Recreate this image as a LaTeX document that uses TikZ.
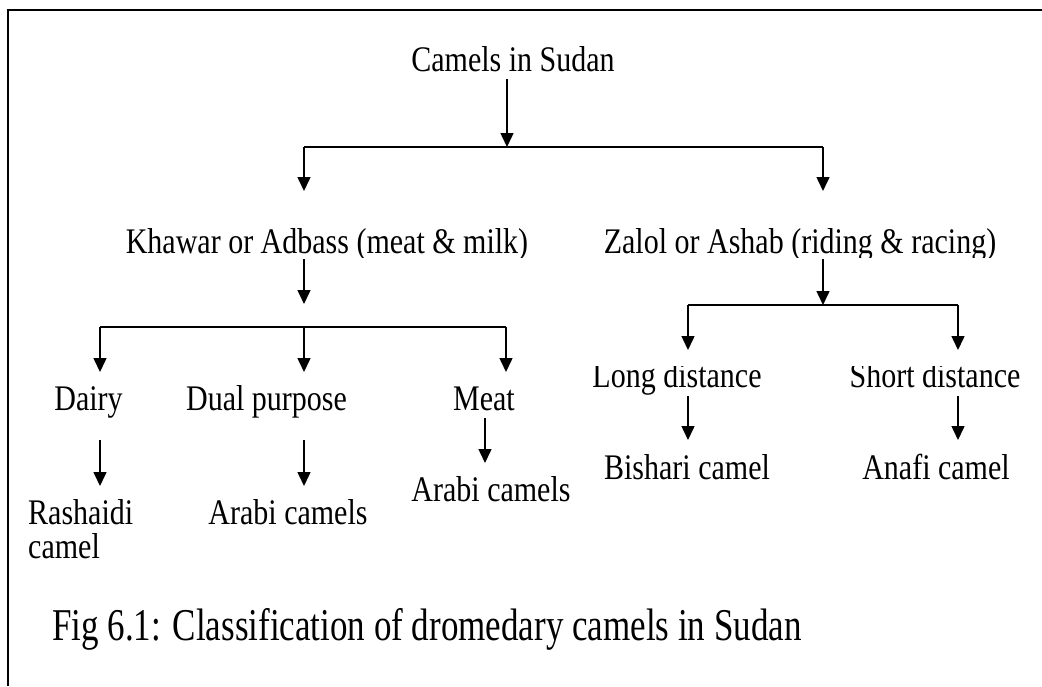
\documentclass[tikz,border=0pt]{standalone}
\usepackage{fontspec}
\usepackage{graphicx}
\setmainfont{Liberation Serif}
\usetikzlibrary{arrows.meta}
\newcommand\st[1]{\scalebox{1}[1.2]{#1}}
\newcommand\stc[1]{\scalebox{1}[1.3]{#1}}
\tikzset{
  lbl/.style={inner sep=0pt, font=\fontsize{30}{36}\selectfont},
  captxt/.style={inner sep=0pt, font=\fontsize{35}{42}\selectfont},
  arr/.style={line width=1.5pt, -{Triangle[width=13pt,length=14pt]}},
  ln/.style={line width=1.5pt},
  frameline/.style={line width=2pt}
}
\begin{document}
\begin{tikzpicture}[x=1pt,y=-1pt]
\useasboundingbox (0,0) rectangle (1042,686);
\fill[white] (0,0) rectangle (1042,686);
% frame
\coordinate (fA) at (8,686);
\coordinate (fB) at (8,10);
\coordinate (fC) at (1042,10);
\draw[frameline] (fA) -- (fB) -- (fC);
% texts
\node[lbl,anchor=base] (camels) at (513,71) {\st{Camels in Sudan}};
\begin{scope}
  \clip (100,200) rectangle (1040,257);
  \node[lbl,anchor=base] (khawar) at (327,253) {\st{Khawar or Adbass (meat \& milk)}};
  \node[lbl,anchor=base] (zalol) at (800,253) {\st{Zalol or Ashab (riding \& racing)}};
\end{scope}
\node[lbl,anchor=base] (dairy) at (88.5,410) {\st{Dairy}};
\node[lbl,anchor=base] (dual) at (266.5,410) {\st{Dual purpose}};
\node[lbl,anchor=base] (meat) at (484,410) {\st{Meat}};
\begin{scope}
  \clip (560,366) rectangle (1040,400);
  \node[lbl,anchor=base] (long) at (677,387) {\st{Long distance}};
  \node[lbl,anchor=base] (short) at (935,387) {\st{Short distance}};
\end{scope}
\node[lbl,anchor=base west] (rash1) at (28,524) {\st{Rashaidi}};
\node[lbl,anchor=base west] (rash2) at (28,558) {\st{camel}};
\node[lbl,anchor=base] (arabi1) at (288,524) {\st{Arabi camels}};
\node[lbl,anchor=base] (arabi2) at (491,501) {\st{Arabi camels}};
\begin{scope}
  \clip (560,440) rectangle (1040,479);
  \node[lbl,anchor=base] (bishari) at (687,479) {\st{Bishari camel}};
  \node[lbl,anchor=base] (anafi) at (936,479) {\st{Anafi camel}};
\end{scope}
\node[captxt,anchor=base west] (caption) at (52,640) {\stc{Fig 6.1: Classification of dromedary camels in Sudan}};
% level 1
\coordinate (a0) at (507,79);
\coordinate (a1) at (507,147);
\coordinate (bL) at (304,147);
\coordinate (bR) at (823,147);
\coordinate (tL) at (304,191);
\coordinate (tR) at (823,191);
\draw[arr] (a0) -- (a1);
\draw[ln] (bL) -- (bR);
\draw[arr] (bL) -- (tL);
\draw[arr] (bR) -- (tR);
% khawar branch
\coordinate (k0) at (304,259);
\coordinate (k1) at (304,304);
\draw[arr] (k0) -- (k1);
\coordinate (kb1) at (100,327);
\coordinate (kb2) at (304,327);
\coordinate (kb3) at (506,327);
\coordinate (kt1) at (100,372);
\coordinate (kt2) at (304,372);
\coordinate (kt3) at (506,372);
\draw[ln] (kb1) -- (kb3);
\draw[arr] (kb1) -- (kt1);
\draw[arr] (kb2) -- (kt2);
\draw[arr] (kb3) -- (kt3);
% zalol branch
\coordinate (z0) at (823,259);
\coordinate (z1) at (823,305);
\draw[arr] (z0) -- (z1);
\coordinate (zb1) at (688,305);
\coordinate (zb2) at (958,305);
\coordinate (zt1) at (688,350);
\coordinate (zt2) at (958,350);
\draw[ln] (zb1) -- (zb2);
\draw[arr] (zb1) -- (zt1);
\draw[arr] (zb2) -- (zt2);
% leaves
\coordinate (d0) at (100,440);
\coordinate (d1) at (100,486);
\draw[arr] (d0) -- (d1);
\coordinate (p0) at (304,440);
\coordinate (p1) at (304,486);
\draw[arr] (p0) -- (p1);
\coordinate (m0) at (485,418);
\coordinate (m1) at (485,463);
\draw[arr] (m0) -- (m1);
\coordinate (l0) at (688,396);
\coordinate (l1) at (688,440);
\draw[arr] (l0) -- (l1);
\coordinate (s0) at (958,396);
\coordinate (s1) at (958,440);
\draw[arr] (s0) -- (s1);
\end{tikzpicture}
\end{document}
